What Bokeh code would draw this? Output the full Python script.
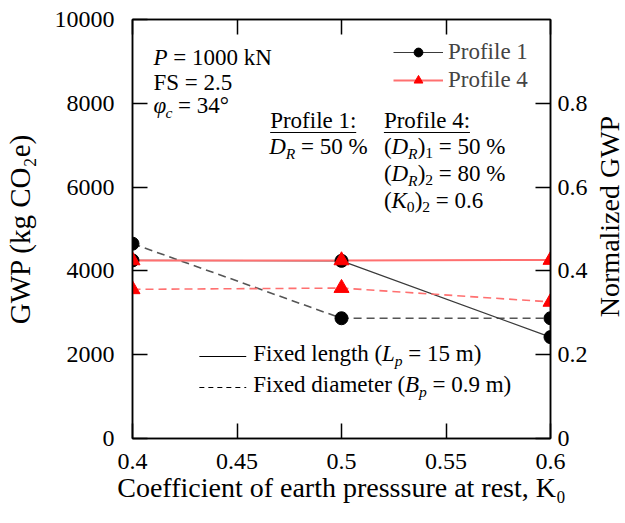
import math
from bokeh.plotting import figure
from bokeh.models import (Range1d, LinearAxis, FixedTicker, Label, Legend, LegendItem)
from bokeh.embed import file_html
from bokeh.resources import INLINE

# ---------------- data ----------------
k0 = [0.4, 0.5, 0.6]
p1_fixed_length = [4250, 4240, 2420]
p1_fixed_diameter = [4650, 2870, 2870]
p4_fixed_length = [4250, 4250, 4260]
p4_fixed_diameter = [3560, 3590, 3260]

x_ticks = [0.4, 0.45, 0.5, 0.55, 0.6]
x_tick_labels = ["0.4", "0.45", "0.5", "0.55", "0.6"]
y_ticks = [0, 2000, 4000, 6000, 8000, 10000]
norm_ticks = [0, 0.2, 0.4, 0.6, 0.8]
norm_tick_labels = ["0", "0.2", "0.4", "0.6", "0.8"]

FONT = "Liberation Serif"
FS = 23
TICK_FS = 24
NB = "\u00a0"

# frame geometry (pixels)
FL, FR, FT, FB = 131, 550, 19, 438
W, H = 625, 523

p = figure(width=W, height=H, output_backend="svg", toolbar_location=None,
           x_range=Range1d(0.4, 0.6), y_range=Range1d(0, 10000),
           min_border_left=FL, min_border_right=W - FR,
           min_border_top=FT, min_border_bottom=H - FB,
           background_fill_color="white", border_fill_color="white")
p.grid.visible = False
p.outline_line_color = "black"
p.outline_line_width = 1.5
p.extra_y_ranges = {"norm": Range1d(0, 1)}


def X(px):
    return 0.4 + (px - FL) / (FR - FL) * 0.2


def Y(py):
    return (FB - py) / (FB - FT) * 10000


def style_axis(ax, label_fs=FS):
    ax.axis_line_color = "black"
    ax.axis_line_width = 1.5
    ax.major_tick_line_color = "black"
    ax.major_tick_line_width = 1.5
    ax.major_tick_in = 15
    ax.major_tick_out = 0
    ax.minor_tick_line_color = None
    ax.major_label_text_font = FONT
    ax.major_label_text_font_size = f"{TICK_FS}px"
    ax.major_label_text_color = "black"
    ax.axis_label_text_font = FONT
    ax.axis_label_text_font_size = f"{label_fs}px"
    ax.axis_label_text_font_style = "normal"
    ax.axis_label_text_color = "black"


xa = p.xaxis[0]
style_axis(xa, 28)
xa.ticker = FixedTicker(ticks=x_ticks)
xa.major_label_overrides = {t: l for t, l in zip(x_ticks, x_tick_labels)}
xa.major_label_standoff = 15
xa.axis_label = "Coefficient of earth presssure at rest, K\u2080"
xa.axis_label_standoff = 0

ya = p.yaxis[0]
style_axis(ya, 29)
ya.ticker = FixedTicker(ticks=y_ticks)
ya.major_label_standoff = 18
ya.axis_label = "GWP (kg CO\u2082e)"
ya.axis_label_standoff = 16

ra = LinearAxis(y_range_name="norm")
style_axis(ra)
ra.ticker = FixedTicker(ticks=norm_ticks)
ra.major_label_overrides = {t: l for t, l in zip(norm_ticks, norm_tick_labels)}
ra.major_label_standoff = 7
p.add_layout(ra, "right")

# right-hand title, reading bottom-to-top as in the reference
p.add_layout(Label(x=X(609), y=Y(216), text="Normalized GWP", angle=math.pi / 2,
                   text_font=FONT, text_font_size="28px", text_color="black",
                   text_align="center", text_baseline="middle"), "right")

ta = LinearAxis()
style_axis(ta)
ta.ticker = FixedTicker(ticks=x_ticks)
ta.major_label_overrides = {t: "" for t in x_ticks}
ta.major_label_standoff = 0
p.add_layout(ta, "above")

# ---------------- data marks ----------------
BLACK_LINE = "#3a3a3a"
RED_LINE = "#ff7070"

l1d = p.line(k0, p1_fixed_diameter, line_color="#555555", line_width=1.6, line_dash="8 5")
l1 = p.line(k0, p1_fixed_length, line_color=BLACK_LINE, line_width=1.2)
l4d = p.line(k0, p4_fixed_diameter, line_color=RED_LINE, line_width=1.6, line_dash="8 5")
l4 = p.line(k0, p4_fixed_length, line_color=RED_LINE, line_width=2)

c1 = p.scatter(k0, p1_fixed_length, marker="circle", size=13, fill_color="black", line_color="black")
p.scatter(k0, p1_fixed_diameter, marker="circle", size=13, fill_color="black", line_color="black")
t4 = p.scatter(k0, p4_fixed_length, marker="triangle", size=15, fill_color="red", line_color="red")
p.scatter(k0, p4_fixed_diameter, marker="triangle", size=15, fill_color="red", line_color="red")

legend = Legend(items=[LegendItem(label="Profile 1", renderers=[l1, c1]),
                       LegendItem(label="Profile 4", renderers=[l4, t4])],
                location=(261, 345), margin=0, padding=0, spacing=2,
                glyph_width=50, glyph_height=22, label_standoff=5,
                label_text_font=FONT, label_text_font_size=f"{FS}px",
                border_line_color=None, background_fill_alpha=0)
p.add_layout(legend)

# ---------------- rich text helpers ----------------
W_REG = {' ': 250, NB: 250, '(': 333, ')': 333, '=': 564, '%': 833, '.': 250, ':': 278,
         ',': 250, '°': 400, 'A': 722, 'B': 667, 'C': 667, 'D': 722, 'E': 611, 'F': 556,
         'G': 722, 'K': 722, 'L': 611, 'N': 722, 'O': 722, 'P': 556, 'R': 667, 'S': 556,
         'W': 944, 'a': 444, 'b': 500, 'c': 444, 'd': 500, 'e': 444, 'f': 333, 'g': 500,
         'h': 500, 'i': 278, 'k': 500, 'l': 278, 'm': 778, 'n': 500, 'o': 500, 'p': 500,
         'r': 333, 's': 389, 't': 278, 'u': 500, 'x': 500, 'z': 444}
W_IT = {'B': 611, 'D': 722, 'K': 667, 'L': 556, 'P': 611, 'R': 611, 'c': 444, 'e': 444,
        'p': 500, 'φ': 520}

DY = -7  # baseline correction


def tw(s, size, italic=False):
    tbl = W_IT if italic else W_REG
    return sum(tbl.get(ch, W_REG.get(ch, 500)) for ch in s) / 1000 * size


def rich(px, py, segs, size=FS):
    cur = 0.0
    for s in segs:
        text, it, sub = (s + (False, False))[:3] if isinstance(s, tuple) else (s, False, False)
        text = text.replace(" ", NB)
        fs = size * 0.68 if sub else size
        off = size * 0.3 if sub else 0.0
        p.add_layout(Label(x=X(px + cur), y=Y(py + off + DY), text=text, text_font=FONT,
                           text_font_style="italic" if it else "normal",
                           text_font_size=f"{fs:.1f}px",
                           text_baseline="alphabetic", text_align="left",
                           text_color="black"))
        cur += tw(text, fs, it)
    return cur


# annotations (upper left)
rich(152, 64, [("P", True), " = 1000 kN"])
rich(152, 89, ["FS = 2.5"])
rich(152, 112, [("φ", True), ("c", True, True), " = 34°"])

# profile descriptions
w1 = rich(269, 127, ["Profile 1:"])
w4 = rich(383, 127, ["Profile 4:"])
p.segment(x0=[X(269), X(383)], y0=[Y(132), Y(132)], x1=[X(269 + w1), X(383 + w4)],
          y1=[Y(132), Y(132)], line_color="black", line_width=1.2)
rich(268, 153, [("D", True), ("R", True, True), " = 50 %"])
rich(383, 153, ["(", ("D", True), ("R", True, True), ")", ("1", False, True), " = 50 %"])
rich(383, 180, ["(", ("D", True), ("R", True, True), ")", ("2", False, True), " = 80 %"])
rich(383, 207, ["(", ("K", True), ("0", False, True), ")", ("2", False, True), " = 0.6"])

# line-style key
p.line([X(198), X(245)], [Y(356), Y(356)], line_color="black", line_width=1.2)
p.line([X(198), X(245)], [Y(387), Y(387)], line_color="black", line_width=1.2, line_dash="5 4")
rich(252, 360, ["Fixed length (", ("L", True), ("p", True, True), " = 15 m)"])
rich(252, 391, ["Fixed diameter (", ("B", True), ("p", True, True), " = 0.9 m)"])

open("out.html", "w").write(file_html(p, INLINE))
